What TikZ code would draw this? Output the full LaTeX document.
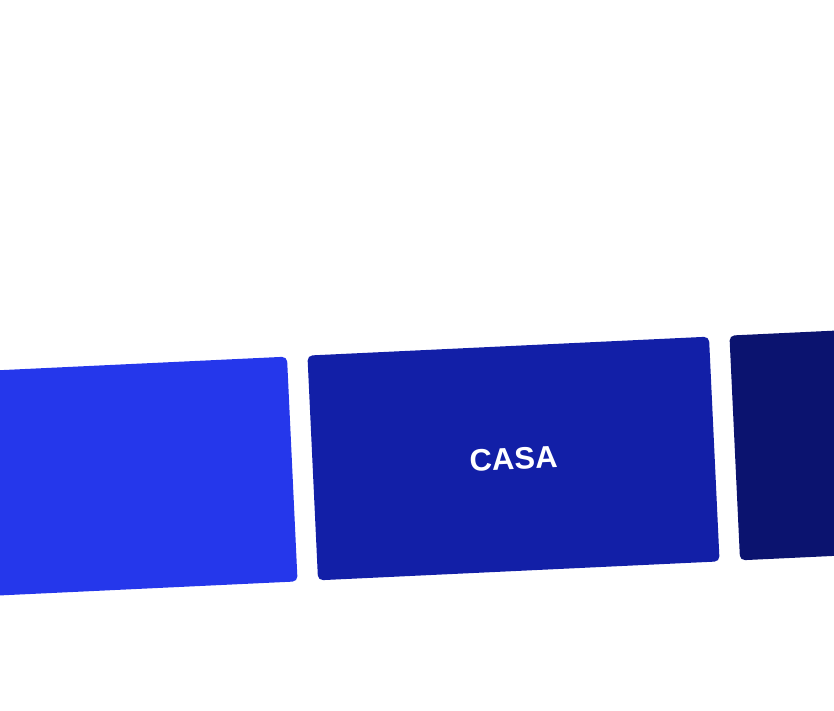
\documentclass[tikz,border=0pt]{standalone}
\usepackage{fontspec}
\setmainfont{Liberation Sans}
\definecolor{cardone}{HTML}{2537EB}
\definecolor{cardtwo}{HTML}{121FA7}
\definecolor{cardthree}{HTML}{0B136F}
\begin{document}
\begin{tikzpicture}[x=1pt,y=1pt,
  card/.style={rectangle, rounded corners=5pt, minimum width=402pt,
    minimum height=225pt, rotate=2.7, inner sep=0pt, text=white,
    font=\bfseries\fontsize{31}{31}\selectfont}]
  % page
  \useasboundingbox (0,0) rectangle (834,711);

  % the three cards
  \node[card, fill=cardone] (cardleft) at (91.5,232.5) {};
  \node[card, fill=cardtwo] (cardmid) at (513.5,252.5) {\raisebox{-5pt}{CASA}};
  \node[card, fill=cardthree] (cardright) at (935.5,272.5) {};
\end{tikzpicture}
\end{document}
